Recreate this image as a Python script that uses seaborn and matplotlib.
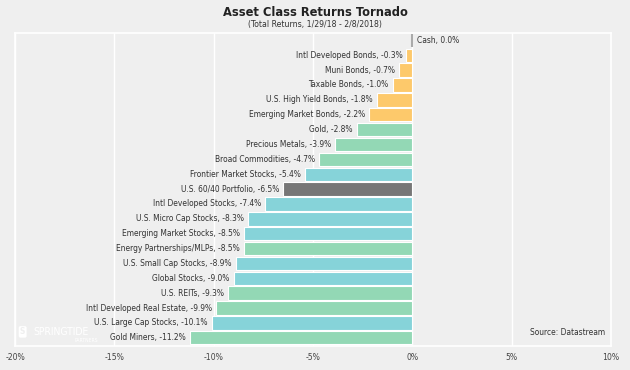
import pandas as pd
import numpy as np
import matplotlib.pyplot as plt
import seaborn as sns

# Data
assets = ['Cash', 'Intl Developed Bonds', 'Muni Bonds', 'Taxable Bonds', 'U.S. High Yield Bonds',
          'Emerging Market Bonds', 'Gold', 'Precious Metals', 'Broad Commodities',
          'Frontier Market Stocks', 'U.S. 60/40 Portfolio', 'Intl Developed Stocks',
          'U.S. Micro Cap Stocks', 'Emerging Market Stocks', 'Energy Partnerships/MLPs',
          'U.S. Small Cap Stocks', 'Global Stocks', 'U.S. REITs', 'Intl Developed Real Estate',
          'U.S. Large Cap Stocks', 'Gold Miners']
returns = [0.0, -0.3, -0.7, -1.0, -1.8, -2.2, -2.8, -3.9, -4.7, -5.4, -6.5, -7.4,
           -8.3, -8.5, -8.5, -8.9, -9.0, -9.3, -9.9, -10.1, -11.2]
groups = ['Cash', 'Bonds', 'Bonds', 'Bonds', 'Bonds', 'Bonds', 'Real', 'Real', 'Real',
          'Stocks', 'Mix', 'Stocks', 'Stocks', 'Stocks', 'Real', 'Stocks', 'Stocks',
          'Real', 'Real', 'Stocks', 'Real']
colors = {'Cash': '#aaaaaa', 'Bonds': '#fdc96b', 'Real': '#93d8b5',
          'Stocks': '#86d3d9', 'Mix': '#777777'}

df = pd.DataFrame({'asset': assets, 'ret': returns, 'group': groups})

sns.set_style('white')
plt.rcParams['font.family'] = ['DejaVu Sans']
plt.rcParams['font.stretch'] = 'condensed'

bg = '#efefef'
fig = plt.figure(figsize=(6.3, 3.7), dpi=100, facecolor=bg)
ax = fig.add_axes([0.024, 0.065, 0.946, 0.846], facecolor=bg)

sns.barplot(data=df, x='ret', y='asset', hue='group', palette=colors, order=assets,
            dodge=False, legend=False, width=0.9, linewidth=0.8, edgecolor='white',
            saturation=1, ax=ax)

# zero-width Cash bar shown as a thin line
for p in ax.patches:
    if abs(p.get_width()) < 1e-9:
        p.set_edgecolor(colors['Cash'])
        p.set_linewidth(1.5)

for i, (name, v) in enumerate(zip(assets, returns)):
    label = f'{name}, {v:.1f}%'
    if v < 0:
        ax.text(v - 0.2, i, label, ha='right', va='center', fontsize=6, color='#333333')
    else:
        ax.text(v + 0.25, i, label, ha='left', va='center', fontsize=6, color='#333333')

ax.set_xlim(-20, 10)
ax.set_ylim(len(assets) - 0.45, -0.5)
ticks = np.arange(-20, 11, 5)
ax.set_xticks(ticks)
ax.set_xticklabels([f'{t}%' for t in ticks], fontsize=6.2, color='#444444')
ax.set_yticks([])
ax.set_xlabel('')
ax.set_ylabel('')
ax.tick_params(axis='x', length=0, pad=5)
ax.grid(axis='x', color='white', linewidth=1)
ax.set_axisbelow(True)
for s in ax.spines.values():
    s.set_color('white')
    s.set_linewidth(1.2)

fig.text(0.5, 0.967, 'Asset Class Returns Tornado', ha='center', va='center',
         fontsize=9.2, fontweight='bold', color='#222222')
fig.text(0.5, 0.934, '(Total Returns, 1/29/18 - 2/8/2018)', ha='center', va='center',
         fontsize=6.2, color='#333333')
ax.text(0.99, 0.03, 'Source: Datastream', transform=ax.transAxes, ha='right', va='bottom',
        fontsize=6, color='#333333')

# Springtide logo
fig.text(0.036, 0.103, 'S', ha='center', va='center', fontsize=6, color=bg,
         fontweight='bold',
         bbox=dict(boxstyle='round,pad=0.15,rounding_size=0.2', fc='white', ec='none'))
fig.text(0.053, 0.103, 'SPRINGTIDE', ha='left', va='center', fontsize=7.5,
         color='white')
fig.text(0.155, 0.079, 'PARTNERS', ha='right', va='center', fontsize=3.6,
         color='white')

plt.savefig('out.png', dpi=100, facecolor=bg)
